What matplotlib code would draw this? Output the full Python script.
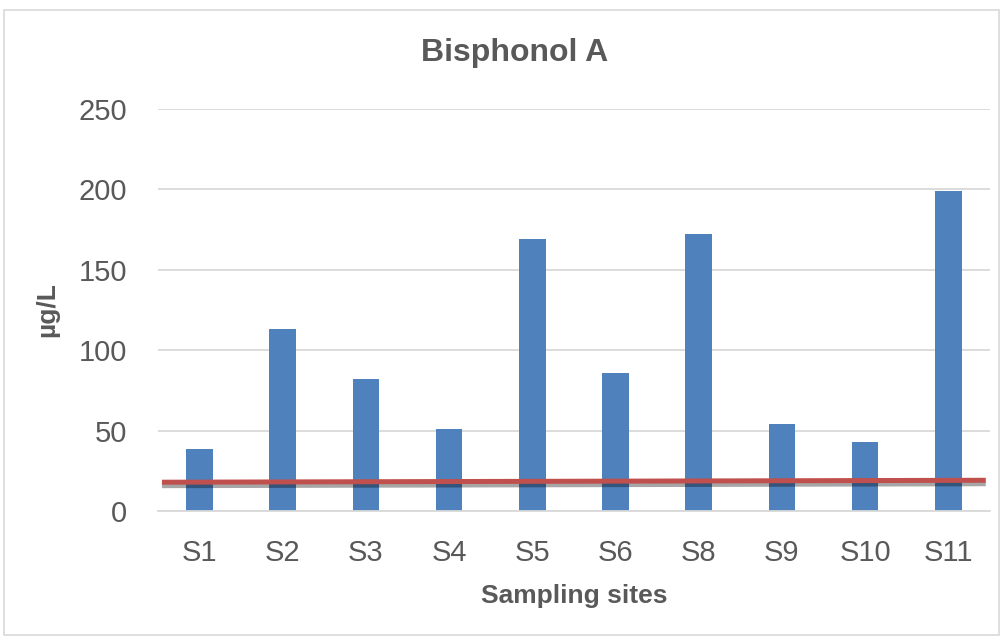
import matplotlib
matplotlib.use("Agg")
import matplotlib.pyplot as plt
import matplotlib.patheffects as pe
import numpy as np

sites = ["S1", "S2", "S3", "S4", "S5", "S6", "S8", "S9", "S10", "S11"]
bpa_ugL = [38.5, 113, 82, 51, 169, 86, 172, 54, 43, 199]
limit_ugL = [18.0, 19.2]  # guideline line, left end -> right end
yticks = [0, 50, 100, 150, 200, 250]

plt.rcParams["font.family"] = ["Liberation Sans Narrow", "Liberation Sans", "DejaVu Sans"]
grey = "#595959"

fig = plt.figure(figsize=(10.05, 6.39), dpi=100)
ax = fig.add_axes([0.157, 0.2, 0.828, 0.63])

x = np.arange(len(sites))
ax.bar(x, bpa_ugL, width=0.32, color="#4f81bd", zorder=2)
ax.plot([x[0] - 0.45, x[-1] + 0.45], limit_ugL, color="#c0504d", lw=3.6,
        solid_capstyle="butt", zorder=3,
        path_effects=[pe.SimpleLineShadow(offset=(0, -2.5), shadow_color="black", alpha=0.35),
                      pe.Normal()])

ax.set_xlim(-0.5, len(sites) - 0.5)
ax.set_ylim(0, 250)
ax.set_yticks(yticks)
ax.set_xticks(x)
ax.set_xticklabels(sites)
ax.yaxis.grid(True, color="#d9d9d9", lw=1.3, zorder=0)
ax.set_axisbelow(True)
for s in ["top", "right", "left"]:
    ax.spines[s].set_visible(False)
ax.spines["bottom"].set_color("#d9d9d9")
ax.spines["bottom"].set_linewidth(1.3)
ax.tick_params(axis="y", length=0, labelsize=21, colors=grey, pad=22)
ax.tick_params(axis="x", length=0, labelsize=21, colors=grey, pad=20)

fig.text(0.512, 0.917, "Bisphonol A", fontsize=23, fontweight="bold", color=grey,
         ha="center", va="center")
ax.set_xlabel("Sampling sites", fontsize=19, fontweight="bold", color=grey, labelpad=12)
ax.set_ylabel("µg/L", fontsize=19, fontweight="bold", color=grey, labelpad=14)

fig.patches.append(plt.Rectangle((0.004, 0.006), 0.99, 0.978, transform=fig.transFigure,
                                 fill=False, edgecolor="#d9d9d9", lw=1.2))

fig.savefig("out.png", dpi=100)
